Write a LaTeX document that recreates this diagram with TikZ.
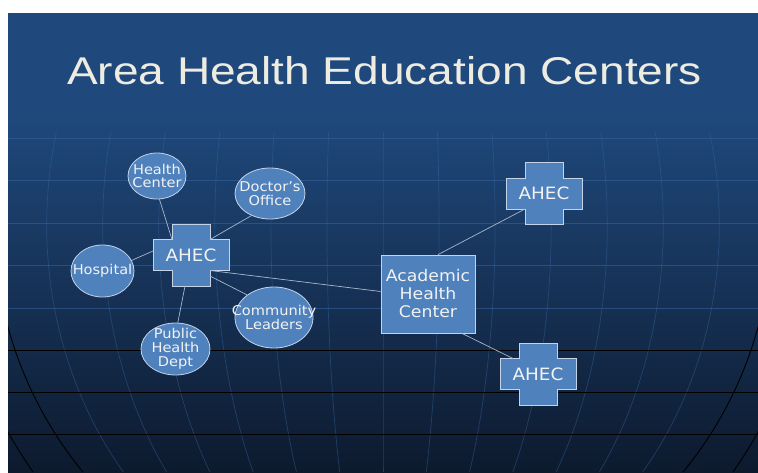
\documentclass[tikz,border=0pt]{standalone}
\usepackage{fontspec}
\setmainfont{Liberation Sans}
\newfontfamily\titlefont[FakeStretch=1.19]{Liberation Sans}
\newfontfamily\boxfont[FakeStretch=1.08]{DejaVu Sans}
\usetikzlibrary{shapes.geometric}

\definecolor{slidetop}{HTML}{1F497D}
\definecolor{slidemid}{HTML}{173660}
\definecolor{slidebot}{HTML}{0D1A2E}
\definecolor{gridblue}{HTML}{3566A3}
\definecolor{accent}{HTML}{4F81BD}
\definecolor{rimcol}{HTML}{C4D3E8}
\definecolor{linkcol}{HTML}{A7B7CF}
\definecolor{titlecol}{HTML}{EEECE1}
\definecolor{textcol}{HTML}{F2F2F2}

\tikzset{
  gridline/.style={draw=gridblue, line width=0.8pt, opacity=0.55},
  meridian/.style={draw=gridblue, line width=0.7pt, opacity=0.45},
  ruleline/.style={draw=black, line width=0.9pt},
  crossbox/.style={fill=accent, draw=rimcol, line width=0.8pt, line join=miter},
  crosstext/.style={text=textcol, font=\boxfont\fontsize{17}{17}\selectfont, inner sep=0pt},
  bubble/.style={ellipse, fill=accent, draw=rimcol, line width=0.8pt, inner sep=0pt},
  bubbletext/.style={text=textcol, font=\boxfont\fontsize{13.5}{13.8}\selectfont, align=center, inner sep=0pt},
  hubbox/.style={rectangle, fill=accent, draw=rimcol, line width=0.8pt,
    minimum width=94pt, minimum height=78pt, text=textcol,
    font=\boxfont\fontsize{16}{18}\selectfont, align=center, inner sep=0pt},
  link/.style={draw=linkcol, line width=0.7pt},
}

% plus-shaped AHEC marker: #1 name, #2 centre
\newcommand\ahecmark[2]{%
  \coordinate (#1) at #2;
  \filldraw[crossbox] ([shift={(-19,-31)}]#1) -- ++(38,0) -- ++(0,15.5) -- ++(19,0)
    -- ++(0,31) -- ++(-19,0) -- ++(0,15.5) -- ++(-38,0) -- ++(0,-15.5)
    -- ++(-19,0) -- ++(0,-31) -- ++(19,0) -- cycle;
  \node[crosstext] (#1-t) at (#1) {AHEC};
}

\begin{document}
\begin{tikzpicture}[x=1pt,y=-1pt]
\useasboundingbox (0,0) rectangle (758,472);
\fill[white] (0,0) rectangle (758,472);

% slide background
\fill[slidetop] (8,13) rectangle (758,112);
\shade[top color=slidetop, middle color=slidemid, bottom color=slidebot] (8,111.5) rectangle (758,472);

% globe grid
\begin{scope}
  \clip (8,13) rectangle (758,472);
  \foreach \yy in {138,180.5,223,265.5,308}
    \draw[gridline] (8,\yy) -- (758,\yy);
  \foreach \k in {-6,...,6}
    \draw[meridian] plot[domain=132:472, samples=40, variable=\t]
      ({383+(\k)*55*sqrt(1510.29-((\t-225)/10)^2)/38.13}, \t);
  \foreach \yy in {350.5,392.5,434.5}
    \draw[ruleline] (8,\yy) -- (758,\yy);
  \foreach \sg in {-1,1} {
    \draw[ruleline] plot[domain=300:472, samples=40, variable=\t]
      ({383+(\sg)*10*sqrt(1510.29-((\t-225)/10)^2)}, \t);
    \draw[ruleline] plot[domain=380:472, samples=30, variable=\t]
      ({383+(\sg)*10*sqrt(1834.74-((\t-225)/10)^2)}, \t);
  }
\end{scope}

% title
\node[text=titlecol, font=\titlefont\fontsize{38.7}{40}\selectfont, anchor=base, inner sep=0pt]
  (title) at (384.5,84.3) {Area Health Education Centers};

% AHEC markers
\ahecmark{a1}{(191,255)}
\ahecmark{a2}{(544,193.5)}
\ahecmark{a3}{(538,374)}

% partner sites
\node[bubble, minimum width=58pt, minimum height=46pt,
  label={[bubbletext]center:{Health\\Center}}] (hc) at (157,176) {};
\node[bubble, minimum width=70pt, minimum height=51pt,
  label={[bubbletext]center:{Doctor’s\\Office}}] (doc) at (270,193.5) {};
\node[bubble, minimum width=63pt, minimum height=52pt,
  label={[bubbletext]center:{Hospital}}] (hosp) at (102.5,271) {};
\node[bubble, minimum width=78pt, minimum height=61pt,
  label={[bubbletext]center:{Community\\Leaders}}] (cl) at (274,317.5) {};
\node[bubble, minimum width=69pt, minimum height=52pt,
  label={[bubbletext]center:{Public\\Health\\Dept}}] (phd) at (175.5,349) {};

% academic centre
\node[hubbox] (acad) at (428,294) {Academic\\Health\\Center};

% connectors
\draw[link] (hc.-84) -- ([shift={(-19,-15.5)}]a1);
\draw[link] (doc.-130) -- ([shift={(19,-15.5)}]a1);
\draw[link] (hosp.20) -- ([shift={(-38,-4)}]a1);
\draw[link] (phd.85) -- ([shift={(-6,31)}]a1);
\draw[link] (cl.140) -- ([shift={(19,21)}]a1);
\draw[link] ([shift={(19,15.5)}]a1) -- ([shift={(0,-2.5)}]acad.west);
\draw[link] ([shift={(10,0)}]acad.north) -- ([shift={(-19,15.5)}]a2);
\draw[link] ([shift={(34,0)}]acad.south) -- ([shift={(-25,-15.5)}]a3);
\end{tikzpicture}
\end{document}
